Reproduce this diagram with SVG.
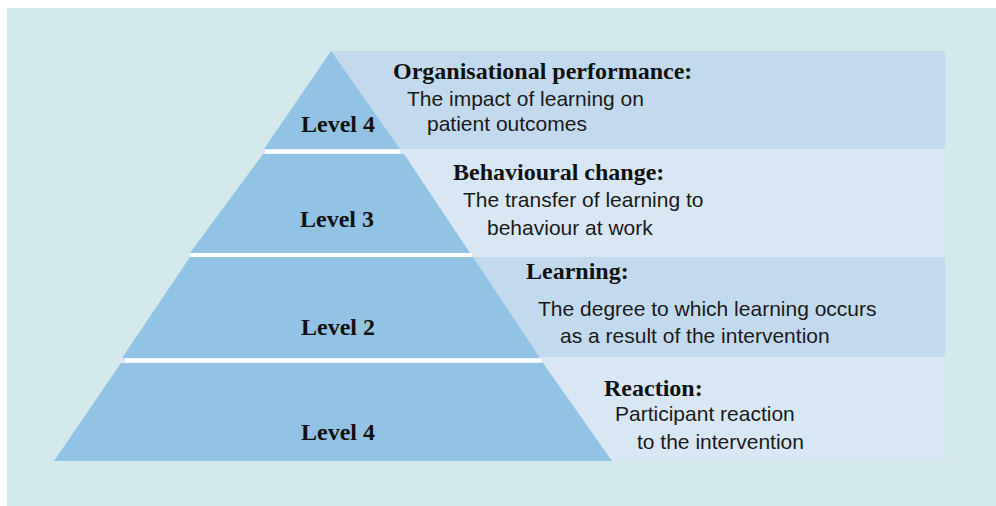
<svg xmlns="http://www.w3.org/2000/svg" width="996" height="506" viewBox="0 0 996 506">
<style>
.tier{fill:#93c3e4}
.bandA{fill:#c2d9ee}
.bandB{fill:#d9e6f4}
.gap{fill:#ffffff}
.lvl{font-family:"Liberation Serif","Times New Roman",serif;font-weight:bold;font-size:24px;fill:#111;text-anchor:middle}
.head{font-family:"Liberation Serif","Times New Roman",serif;font-weight:bold;font-size:24px;fill:#111}
.body{font-family:"Liberation Sans",Arial,sans-serif;font-size:21px;fill:#1a1a1a}
</style>
<rect x="0" y="0" width="996" height="506" fill="#ffffff"/>
<rect x="7" y="8" width="989" height="498" fill="#d4e9ec"/>

<g id="band4">
  <rect class="bandA" x="331" y="51" width="614" height="98"/>
</g>
<g id="band3">
  <rect class="bandB" x="260" y="149" width="685" height="108"/>
</g>
<g id="band2">
  <rect class="bandA" x="190" y="257" width="755" height="100"/>
</g>
<g id="band1">
  <rect class="bandB" x="120" y="357" width="825" height="104"/>
</g>

<g id="tier4">
  <polygon class="tier" points="331,51 400,149 264,149"/>
  <text class="lvl" x="338" y="132">Level 4</text>
</g>
<g id="tier3">
  <polygon class="tier" points="263,154 404,154 470,253 190,253"/>
  <text class="lvl" x="337" y="227">Level 3</text>
</g>
<g id="tier2">
  <polygon class="tier" points="190,257 473,257 540,358 122,358"/>
  <text class="lvl" x="338" y="335">Level 2</text>
</g>
<g id="tier1">
  <polygon class="tier" points="121,363 543,363 612,461 54,461"/>
  <text class="lvl" x="338" y="440">Level 4</text>
</g>

<g id="stripes">
  <rect class="gap" x="265" y="149.5" width="135" height="4"/>
  <rect class="gap" x="190" y="253" width="282" height="4"/>
  <rect class="gap" x="125" y="358.5" width="416" height="4"/>
</g>

<g id="text4">
  <text class="head" x="393" y="79">Organisational performance:</text>
  <text class="body" x="407" y="106">The impact of learning on</text>
  <text class="body" x="427" y="131">patient outcomes</text>
</g>
<g id="text3">
  <text class="head" x="453" y="180">Behavioural change:</text>
  <text class="body" x="463" y="207">The transfer of learning to</text>
  <text class="body" x="487" y="235">behaviour at work</text>
</g>
<g id="text2">
  <text class="head" x="526" y="279">Learning:</text>
  <text class="body" x="538" y="316">The degree to which learning occurs</text>
  <text class="body" x="560" y="343">as a result of the intervention</text>
</g>
<g id="text1">
  <text class="head" x="604" y="396">Reaction:</text>
  <text class="body" x="615" y="421">Participant reaction</text>
  <text class="body" x="637" y="449">to the intervention</text>
</g>
</svg>
